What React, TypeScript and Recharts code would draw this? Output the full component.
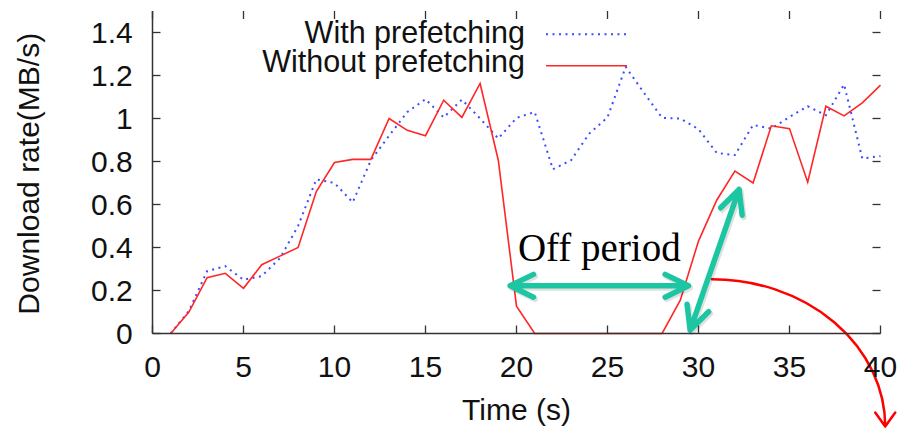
import React from 'react';
import { LineChart, Line, XAxis, YAxis, ReferenceLine, Legend } from 'recharts';

const times = [
  1, 2, 3, 4, 5, 6, 7, 8, 9, 10, 11, 12, 13, 14, 15, 16, 17, 18, 19, 20,
  21, 22, 23, 24, 25, 26, 27, 28, 29, 30, 31, 32, 33, 34, 35, 36, 37, 38, 39, 40,
];
const withPrefetching = [
  0, 0.105, 0.29, 0.313, 0.25, 0.267, 0.35, 0.5, 0.717, 0.7,
  0.61, 0.806, 0.92, 1.03, 1.09, 1.005, 1.088, 1.0, 0.907, 1.003,
  1.03, 0.764, 0.806, 0.93, 1.005, 1.24, 1.12, 1.003, 1.0, 0.95,
  0.84, 0.83, 0.97, 0.953, 1.007, 1.057, 1.015, 1.158, 0.814, 0.825,
];
const withoutPrefetching = [
  0, 0.1, 0.26, 0.28, 0.21, 0.32, 0.36, 0.4, 0.66, 0.795,
  0.81, 0.81, 1.0, 0.945, 0.92, 1.085, 1.005, 1.163, 0.806, 0.127,
  0, 0, 0, 0, 0, 0, 0, 0, 0.155, 0.43,
  0.62, 0.755, 0.7, 0.966, 0.953, 0.704, 1.057, 1.012, 1.073, 1.155,
];
const xTicks = [0, 5, 10, 15, 20, 25, 30, 35, 40];
const yTicks = [0, 0.2, 0.4, 0.6, 0.8, 1, 1.2, 1.4];
const seriesNames = ['With prefetching', 'Without prefetching'];
const xTitle = 'Time (s)';
const yTitle = 'Download rate(MB/s)';
const offPeriodLabel = 'Off period';
const offPeriodSpan = [{ x: 19.65, y: 0.222 }, { x: 29.45, y: 0.222 }];
const rampArrow = [{ x: 29.54, y: 0.016 }, { x: 32.23, y: 0.67 }];
const curveArrow = [{ x: 30.74, y: 0.252 }, { x: 40.26, y: -0.433 }];

const data = times.map((t, i) => ({
  t,
  withP: withPrefetching[i],
  withoutP: withoutPrefetching[i],
}));

const FONT = '"Liberation Sans", Arial, Helvetica, sans-serif';
const SERIF = '"Liberation Serif", "Times New Roman", serif';
const BLUE = '#3a4cff';
const RED = '#ff2626';
const TEAL = '#1dc6a2';
const AXIS = '#333333';
const PLOT_W = 728;
const PLOT_H = 322.5;
const TICK = 8;

const XTick = (props: any) => {
  const { x, y, payload } = props;
  return (
    <g>
      <line x1={x} x2={x} y1={y} y2={y - TICK} stroke={AXIS} strokeWidth={1.3} />
      <line x1={x} x2={x} y1={y - PLOT_H} y2={y - PLOT_H + TICK} stroke={AXIS} strokeWidth={1.3} />
      <text x={x} y={y + 43.2} textAnchor="middle" fontFamily={FONT} fontSize={30} fill="#111">
        {payload.value}
      </text>
    </g>
  );
};

const YTick = (props: any) => {
  const { x, y, payload } = props;
  return (
    <g>
      <line x1={x} x2={x + TICK} y1={y} y2={y} stroke={AXIS} strokeWidth={1.3} />
      <line x1={x + PLOT_W} x2={x + PLOT_W - TICK} y1={y} y2={y} stroke={AXIS} strokeWidth={1.3} />
      <text x={x - 19.8} y={y + 10.3} textAnchor="end" fontFamily={FONT} fontSize={30} fill="#111">
        {payload.value}
      </text>
    </g>
  );
};

const barbs = (tx: number, ty: number, fx: number, fy: number, len: number, ang: number) => {
  const dx = fx - tx;
  const dy = fy - ty;
  const d = Math.sqrt(dx * dx + dy * dy) || 1;
  const ux = dx / d;
  const uy = dy / d;
  const a = (ang * Math.PI) / 180;
  const c = Math.cos(a);
  const s = Math.sin(a);
  const b1 = [tx + len * (ux * c - uy * s), ty + len * (ux * s + uy * c)];
  const b2 = [tx + len * (ux * c + uy * s), ty + len * (-ux * s + uy * c)];
  return `M ${b1[0]} ${b1[1]} L ${tx} ${ty} L ${b2[0]} ${b2[1]}`;
};

const DoubleArrow = (label?: string) => (props: any) => {
  const { x1, y1, x2, y2 } = props;
  const d = `M ${x1} ${y1} L ${x2} ${y2} ` + barbs(x1, y1, x2, y2, 26, 26) + ' ' + barbs(x2, y2, x1, y1, 26, 26);
  return (
    <g>
      <path d={d} stroke="rgba(0,0,0,0.12)" strokeWidth={6} fill="none" strokeLinecap="round" strokeLinejoin="round" transform="translate(1.5,2)" />
      <path d={d} stroke={TEAL} strokeWidth={5.5} fill="none" strokeLinecap="round" strokeLinejoin="round" />
      {label ? (
        <text x={(x1 + x2) / 2} y={y1 - 24.7} textAnchor="middle" fontFamily={SERIF} fontSize={39} fill="#000">
          {label}
        </text>
      ) : null}
    </g>
  );
};

const CurvedArrow = (props: any) => {
  const { x1, y1, x2, y2 } = props;
  const rx = Math.abs(x2 - x1);
  const ry = Math.abs(y2 - y1);
  const d = `M ${x1} ${y1} A ${rx} ${ry} 0 0 1 ${x2} ${y2} M ${x2 - 10} ${y2 - 14} L ${x2} ${y2} L ${x2 + 10} ${y2 - 14}`;
  return <path d={d} stroke="#ff0000" strokeWidth={2.5} fill="none" strokeLinecap="round" strokeLinejoin="round" />;
};

const LegendContent = () => (
  <svg width={902} height={90} style={{ display: 'block' }}>
    <text x={525} y={43.3} textAnchor="end" fontFamily={FONT} fontSize={30.5} fill="#111">
      {seriesNames[0]}
    </text>
    <line x1={546} x2={627} y1={34.3} y2={34.3} stroke={BLUE} strokeWidth={2} strokeDasharray="2 4.5" />
    <text x={525} y={71.7} textAnchor="end" fontFamily={FONT} fontSize={30.5} fill="#111">
      {seriesNames[1]}
    </text>
    <line x1={546} x2={627} y1={65.7} y2={65.7} stroke={RED} strokeWidth={1.6} />
  </svg>
);

const XTitle = (props: any) => {
  const vb = props.viewBox || { x: 152.5, width: 728 };
  return (
    <text x={vb.x + vb.width / 2} y={420} textAnchor="middle" fontFamily={FONT} fontSize={30} fill="#111">
      {xTitle}
    </text>
  );
};

const YTitle = (props: any) => {
  const vb = props.viewBox || { y: 11, height: 322.5 };
  const cy = vb.y + vb.height / 2 + 1.5;
  return (
    <text x={39} y={cy} transform={`rotate(-90, 39, ${cy})`} textAnchor="middle" fontFamily={FONT} fontSize={30} fill="#111">
      {yTitle}
    </text>
  );
};

export default function App() {
  return (
    <div style={{ position: 'absolute', left: 0, top: 0, width: 902, height: 429, background: '#fff' }}>
      <LineChart width={902} height={429} data={data} margin={{ top: 11, right: 21.5, left: 0, bottom: 0 }}>
        <XAxis
          xAxisId="bottom"
          dataKey="t"
          type="number"
          domain={[0, 40]}
          ticks={xTicks}
          height={95.5}
          tickSize={0}
          tickMargin={0}
          tick={<XTick />}
          axisLine={{ stroke: AXIS, strokeWidth: 1.5 }}
          tickLine={false}
          label={<XTitle />}
        />
        <XAxis
          xAxisId="top"
          orientation="top"
          dataKey="t"
          type="number"
          domain={[0, 40]}
          ticks={xTicks}
          height={0}
          mirror
          tickSize={0}
          tick={false}
          axisLine={{ stroke: AXIS, strokeWidth: 1.5 }}
          tickLine={false}
        />
        <YAxis
          yAxisId="left"
          type="number"
          domain={[0, 1.5]}
          ticks={yTicks}
          width={152.5}
          tickSize={0}
          tickMargin={0}
          tick={<YTick />}
          axisLine={{ stroke: AXIS, strokeWidth: 1.5 }}
          tickLine={false}
          label={<YTitle />}
        />
        <YAxis
          yAxisId="right"
          orientation="right"
          type="number"
          domain={[0, 1.5]}
          ticks={yTicks}
          width={0}
          mirror
          tickSize={0}
          tick={false}
          axisLine={{ stroke: AXIS, strokeWidth: 1.5 }}
          tickLine={false}
        />
        <Legend
          layout="vertical"
          align="center"
          verticalAlign="middle"
          content={<LegendContent />}
          wrapperStyle={{ position: 'absolute', left: 0, top: 0, width: 902, height: 90, pointerEvents: 'none' }}
        />
        <Line
          xAxisId="bottom"
          yAxisId="left"
          type="linear"
          dataKey="withP"
          name={seriesNames[0]}
          stroke={BLUE}
          strokeWidth={2}
          strokeDasharray="2 4.5"
          dot={false}
          activeDot={false}
          isAnimationActive={false}
        />
        <Line
          xAxisId="bottom"
          yAxisId="left"
          type="linear"
          dataKey="withoutP"
          name={seriesNames[1]}
          stroke={RED}
          strokeWidth={1.6}
          dot={false}
          activeDot={false}
          isAnimationActive={false}
        />
        <ReferenceLine
          xAxisId="bottom"
          yAxisId="left"
          segment={curveArrow}
          ifOverflow="visible"
          shape={CurvedArrow}
        />
        <ReferenceLine
          xAxisId="bottom"
          yAxisId="left"
          segment={offPeriodSpan}
          ifOverflow="visible"
          shape={DoubleArrow(offPeriodLabel)}
        />
        <ReferenceLine
          xAxisId="bottom"
          yAxisId="left"
          segment={rampArrow}
          ifOverflow="visible"
          shape={DoubleArrow()}
        />
      </LineChart>
    </div>
  );
}
